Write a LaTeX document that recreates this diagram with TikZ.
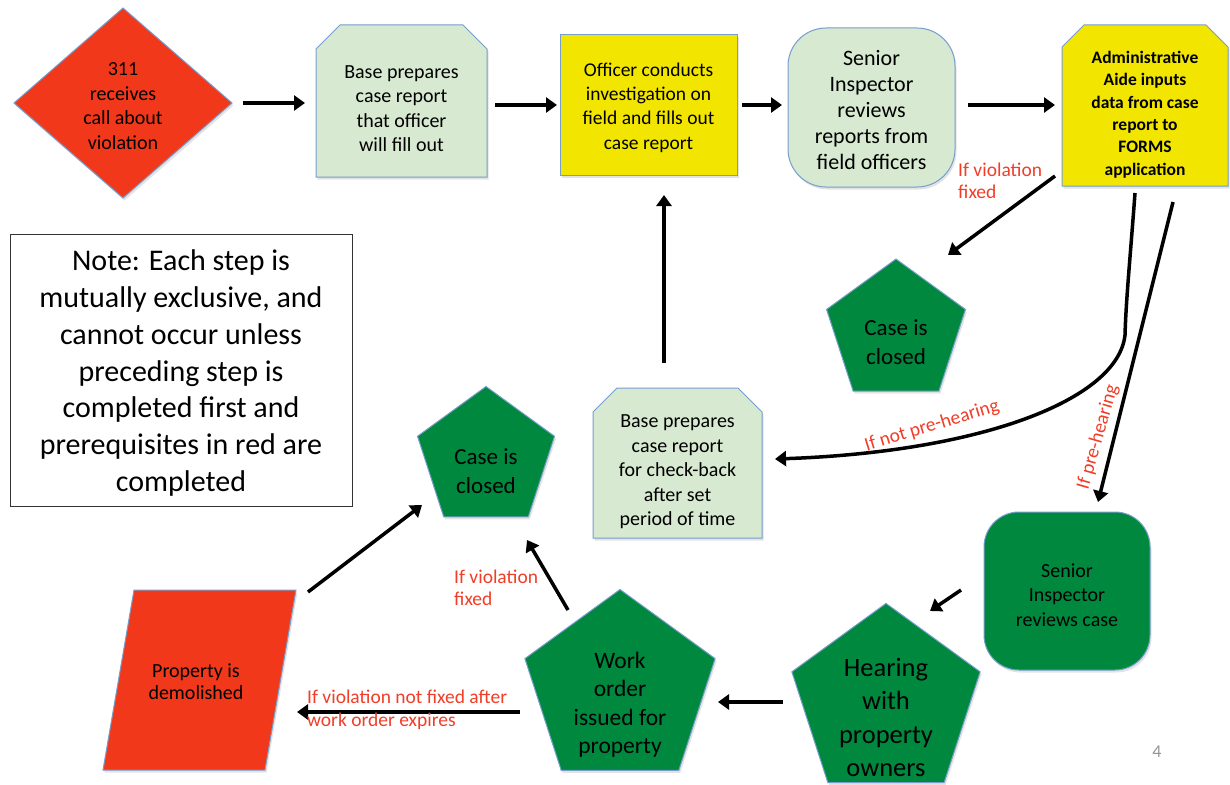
\documentclass[tikz,border=0pt]{standalone}
\usepackage{fontspec}
\setmainfont{Carlito}
\usetikzlibrary{arrows.meta,shapes.geometric,shadows,calc}
\definecolor{fillred}{RGB}{242,56,26}
\definecolor{lgreen}{RGB}{215,233,209}
\definecolor{fyellow}{RGB}{242,230,0}
\definecolor{dgreen}{RGB}{0,137,62}
\definecolor{bblue}{RGB}{118,158,204}
\definecolor{lblred}{RGB}{240,62,40}
\definecolor{pggray}{RGB}{150,150,150}
\tikzset{
  shp/.style={draw=bblue, line width=1pt, drop shadow={shadow xshift=1.5pt, shadow yshift=-2.5pt, opacity=0.22}},
  ghost/.style={draw=none, fill=none, inner sep=0pt, outer sep=0pt, rectangle},
  txt/.style={align=center, inner sep=0pt, text=black, font=\fontsize{20}{24.5}\selectfont},
  pent/.style={shp, fill=dgreen, regular polygon, regular polygon sides=5, inner sep=0pt, outer sep=0pt},
  arr/.style={line width=3.5pt, -{Triangle[length=11pt,width=15pt]}},
  lbl/.style={text=lblred, align=left, inner sep=0pt, font=\fontsize{19.5}{22.5}\selectfont},
}
\begin{document}
\begin{tikzpicture}[x=1pt,y=-1pt]
\useasboundingbox (0,0) rectangle (1230,784);
\fill[white] (0,0) rectangle (1230,784);

% ---------- shapes ----------
\node[shp, fill=fillred, diamond, minimum width=218pt, minimum height=190pt, inner sep=0pt, outer sep=0pt] (d311) at (123,103) {};

\node[ghost, minimum width=171pt, minimum height=152pt] (b1) at (401.5,101) {};
\path[shp, fill=lgreen] (b1.south west) -- ([yshift=-24pt]b1.north west) -- ([xshift=24pt]b1.north west)
  -- ([xshift=-24pt]b1.north east) -- ([yshift=-24pt]b1.north east) -- (b1.south east) -- cycle;

\node[shp, fill=fyellow, rectangle, minimum width=177pt, minimum height=140pt, inner sep=0pt, outer sep=0pt] (off) at (648.5,105) {};

\node[shp, fill=lgreen, rectangle, rounded corners=38pt, minimum width=167pt, minimum height=159pt, inner sep=0pt, outer sep=0pt] (sir1) at (871.5,107.5) {};

\node[ghost, minimum width=166pt, minimum height=161pt] (adm) at (1145,105.5) {};
\path[shp, fill=fyellow] (adm.south west) -- ([yshift=-22pt]adm.north west) -- ([xshift=22pt]adm.north west)
  -- ([xshift=-22pt]adm.north east) -- ([yshift=-22pt]adm.north east) -- (adm.south east) -- cycle;

\node[draw=black!80, line width=1pt, fill=white, rectangle, minimum width=342pt, minimum height=272pt, inner sep=0pt, outer sep=0pt] (note) at (181,370) {};

\node[pent, minimum size=146pt] (cc1) at (896,332) {};
\node[pent, minimum size=144pt] (cc2) at (486,458.5) {};

\node[ghost, minimum width=169pt, minimum height=150pt] (b2) at (677.5,463) {};
\path[shp, fill=lgreen] (b2.south west) -- ([yshift=-24pt]b2.north west) -- ([xshift=24pt]b2.north west)
  -- ([xshift=-24pt]b2.north east) -- ([yshift=-24pt]b2.north east) -- (b2.south east) -- cycle;

\node[shp, fill=dgreen, rectangle, rounded corners=35pt, minimum width=166pt, minimum height=158pt, inner sep=0pt, outer sep=0pt] (sir2) at (1067,591) {};

\node[pent, minimum size=198pt] (hear) at (886,702.4) {};
\node[pent, minimum size=200pt] (wo) at (620,689.5) {};

\node[ghost, minimum width=193pt, minimum height=180pt] (prop) at (199.5,680) {};
\path[shp, fill=fillred] (prop.south west) -- ([xshift=31pt]prop.north west) -- (prop.north east)
  -- ([xshift=-31pt]prop.south east) -- cycle;

% ---------- texts ----------
\node[txt] (d311t) at (123,106) {311\\receives\\call about\\violation};
\node[txt] (b1t) at (401.5,108.5) {Base prepares\\case report\\that officer\\will fill out};
\node[txt, font=\fontsize{19.5}{24.2}\selectfont] (offt) at (648.5,107.5) {Officer conducts\\investigation on\\field and fills out\\case report};
\node[txt, font=\fontsize{22}{26.2}\selectfont] (sir1t) at (871.5,110) {Senior\\Inspector\\reviews\\reports from\\field officers};
\node[txt, font=\bfseries\fontsize{17.5}{22.4}\selectfont] (admt) at (1145,114.5) {Administrative\\Aide inputs\\data from case\\report to\\FORMS\\application};
\node[txt, font=\fontsize{30}{36.8}\selectfont] (notet) at (181,373) {Note: Each step is\\mutually exclusive, and\\cannot occur unless\\preceding step is\\completed first and\\prerequisites in red are\\completed};
\node[txt, font=\fontsize{23}{29}\selectfont] (cc1t) at (896,342.5) {Case is\\closed};
\node[txt, font=\fontsize{23}{29}\selectfont] (cc2t) at (486,471) {Case is\\closed};
\node[txt] (b2t) at (677.5,472) {Base prepares\\case report\\for check-back\\after set\\period of time};
\node[txt] (sir2t) at (1067,595) {Senior\\Inspector\\reviews case};
\node[txt, font=\fontsize{26.5}{33.5}\selectfont] (heart) at (886,717.5) {Hearing\\with\\property\\owners};
\node[txt, font=\fontsize{23.5}{28.5}\selectfont] (wot) at (620,704.5) {Work\\order\\issued for\\property};
\node[txt, font=\fontsize{20}{22.5}\selectfont] (propt) at (196,681.5) {Property is\\demolished};
\node[inner sep=0pt, text=pggray, font=\fontsize{18}{20}\selectfont] (pg) at (1157,752) {4};

% ---------- connectors ----------
\draw[arr] ([xshift=11pt]d311.east) -- ([shift={(-11pt,-2pt)}]b1.west);
\draw[arr] ([shift={(8pt,-4pt)}]b1.east) -- ([xshift=-3pt]off.west);
\draw[arr] ([xshift=5pt]off.east) -- ([shift={(-6pt,2.5pt)}]sir1.west);
\draw[arr] ([shift={(13pt,2.5pt)}]sir1.east) -- ([shift={(-7pt,0.5pt)}]adm.west);
\draw[arr] ([shift={(-7pt,10pt)}]adm.south west) -- ([shift={(52pt,77pt)}]cc1.center);
\draw[arr] ([shift={(-10pt,-7pt)}]adm.south) .. controls (1130,260) and (1126,300) .. (1125,335)
  .. controls (1118,400) and (980,452) .. ([shift={(13pt,4pt)}]b2.east);
\draw[arr] ([shift={(-55pt,-16pt)}]adm.south east) -- ([shift={(31pt,10pt)}]sir2.north);
\draw[arr] ([shift={(-23pt,1pt)}]sir2.west) -- ([shift={(44pt,91.4pt)}]hear.center);
\draw[arr] ([shift={(-103pt,0.4pt)}]hear.center) -- ([shift={(98pt,-12.5pt)}]wo.center);
\draw[arr] ([shift={(-100pt,-22.5pt)}]wo.center) -- ([shift={(1pt,-32pt)}]prop.east);
\draw[arr] ([shift={(-52pt,79.5pt)}]wo.center) -- ([shift={(41pt,-81.5pt)}]cc2.center);
\draw[arr] ([shift={(12pt,-2pt)}]prop.north east) -- ([shift={(-64pt,-46.5pt)}]cc2.center);
\draw[arr] ([shift={(-13.5pt,25pt)}]b2.north) -- ([shift={(15.5pt,-20pt)}]off.south);

% ---------- labels ----------
\node[lbl, anchor=west] (l1) at (958,181) {If violation\\fixed};
\node[lbl, rotate=17] (l2) at (932,426) {If not pre-hearing};
\node[lbl, rotate=74] (l3) at (1098,437) {If pre-hearing};
\node[lbl, anchor=west] (l4) at (307,710) {If violation not fixed after\\work order expires};
\node[lbl, anchor=west] (l5) at (454,588) {If violation\\fixed};
\end{tikzpicture}
\end{document}
